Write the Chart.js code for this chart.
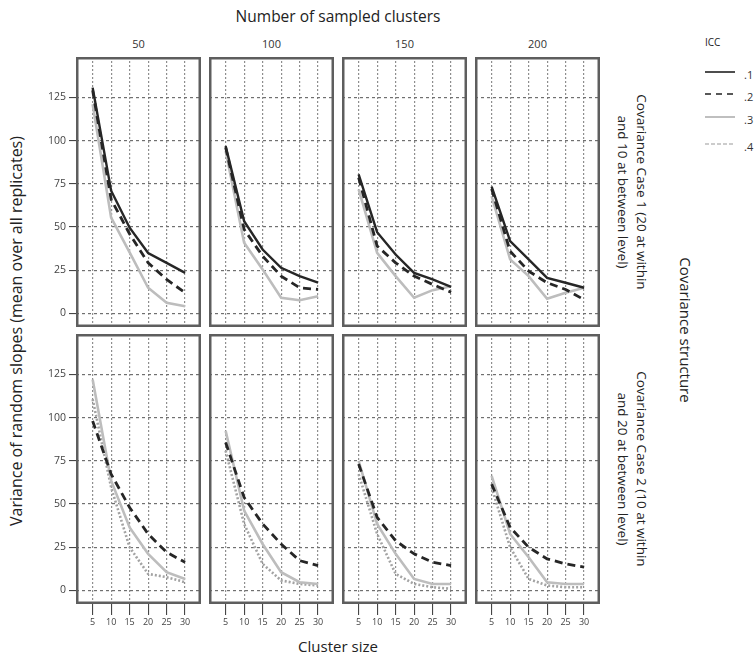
<!DOCTYPE html>
<html>
<head>
<meta charset="utf-8">
<script src="https://cdn.jsdelivr.net/npm/chart.js@4.4.1/dist/chart.umd.min.js"></script>
<style>
  html, body { margin: 0; padding: 0; background: #fff; }
  body { width: 756px; height: 658px; position: relative; overflow: hidden;
         font-family: "Open Sans", "DejaVu Sans", sans-serif; color: #222; }
  canvas { position: absolute; }
  .t { position: absolute; white-space: nowrap; transform: translate(-50%, -50%); }
  .rot-r { transform: translate(-50%, -50%) rotate(90deg); text-align: center; }
  .rot-l { transform: translate(-50%, -50%) rotate(-90deg); }
  .legend { position: absolute; left: 705px; top: 34px; font-size: 10px; color: #222; }
  .legend .row { position: absolute; left: 0; width: 60px; height: 12px; }
  .legend svg { position: absolute; left: 0; top: 0; }
  .legend span { position: absolute; left: 39px; top: -2px; font-size: 11px; color: #333; }
</style>
</head>
<body>

<div class="t" style="left:338px; top:16px; font-size:15.5px;">Number of sampled clusters</div>
<div class="t" style="left:338px; top:646px; font-size:15px;">Cluster size</div>
<div class="t rot-l" style="left:16px; top:331px; font-size:16px;">Variance of random slopes (mean over all replicates)</div>
<div class="t rot-r" style="left:686px; top:330px; font-size:15px;">Covariance structure</div>
<div class="t rot-r" style="left:632px; top:192px; font-size:13.5px; line-height:19px;">Covariance Case 1 (20 at within<br>and 10 at between level)</div>
<div class="t rot-r" style="left:632px; top:469px; font-size:13.5px; line-height:19px;">Covariance Case 2 (10 at within<br>and 20 at between level)</div>
<div id="strips"></div>

<div class="legend">
  <div style="position:absolute; left:0; top:1px;">ICC</div>
  <div class="row" style="top:35px;"><svg width="32" height="6"><line x1="0" y1="3" x2="30" y2="3" stroke="#222" stroke-width="1.6"/></svg><span>.1</span></div>
  <div class="row" style="top:57px;"><svg width="32" height="6"><line x1="0" y1="3" x2="30" y2="3" stroke="#222" stroke-width="1.6" stroke-dasharray="6 5"/></svg><span>.2</span></div>
  <div class="row" style="top:80px;"><svg width="32" height="6"><line x1="0" y1="3" x2="30" y2="3" stroke="#b0b0b0" stroke-width="1.6"/></svg><span>.3</span></div>
  <div class="row" style="top:107px;"><svg width="32" height="6"><line x1="0" y1="3" x2="30" y2="3" stroke="#999" stroke-width="1" stroke-dasharray="4 2"/></svg><span>.4</span></div>
</div>

<script>
// Axis values
const clusterSizes = [5, 10, 15, 20, 25, 30];
const sampledClusters = ['50', '100', '150', '200'];
const varianceTicks = [0, 25, 50, 75, 100, 125];
const iccLevels = ['.1', '.2', '.3', '.4'];

// Covariance Case 1: one row per number of sampled clusters (50, 100, 150, 200)
const case1Icc1 = [
  [130.6, 71.0, 49.6, 35.0, 29.3, 23.5],
  [96.8, 53.4, 37.0, 26.4, 21.6, 17.8],
  [80.4, 47.0, 34.1, 23.5, 19.7, 15.4],
  [73.3, 41.8, 31.3, 20.6, 17.8, 14.9]
];
const case1Icc2 = [
  [129.0, 66.0, 46.0, 29.3, 19.7, 12.0],
  [96.0, 48.6, 33.2, 21.6, 14.9, 13.9],
  [78.5, 39.0, 29.3, 21.6, 16.8, 12.3],
  [72.0, 36.0, 24.5, 17.8, 13.9, 8.0]
];
const case1Icc3 = [
  [121.0, 55.4, 35.3, 14.9, 6.2, 4.2],
  [94.0, 40.9, 25.5, 9.1, 7.7, 10.0],
  [71.8, 35.1, 21.6, 9.1, 13.5, 15.8],
  [67.9, 31.3, 21.6, 8.5, 12.0, 14.9]
];

// Covariance Case 2: one row per number of sampled clusters (50, 100, 150, 200)
const case2Icc2 = [
  [98.0, 67.3, 48.0, 32.7, 22.1, 16.3],
  [85.6, 53.8, 38.5, 26.9, 17.3, 14.4],
  [73.1, 42.3, 28.8, 21.2, 16.3, 14.4],
  [61.5, 36.5, 25.0, 18.3, 15.4, 13.5]
];
const case2Icc3 = [
  [122.0, 63.5, 36.5, 21.2, 10.6, 6.7],
  [92.3, 46.2, 26.9, 10.6, 4.8, 3.8],
  [75.0, 38.5, 21.2, 6.7, 3.8, 3.8],
  [66.3, 32.7, 19.2, 4.8, 3.8, 3.8]
];
const case2Icc4 = [
  [110.6, 59.6, 25.0, 9.6, 7.7, 4.8],
  [80.8, 38.5, 15.4, 5.8, 3.8, 2.9],
  [67.3, 32.7, 9.6, 3.8, 1.9, 1.0],
  [59.6, 25.0, 6.7, 2.9, 1.9, 1.9]
];

// Line appearance per ICC level
const iccStyle = {
  '.1': { color: '#262626', width: 2.4, dash: [] },
  '.2': { color: '#262626', width: 2.8, dash: [8, 5] },
  '.3': { color: '#bdbdbd', width: 2.6, dash: [] },
  '.4': { color: '#a3a3a3', width: 2.6, dash: [2, 2] }
};

// Series drawn in each row of panels
const rows = [
  [{ icc: '.1', values: case1Icc1 }, { icc: '.2', values: case1Icc2 }, { icc: '.3', values: case1Icc3 }],
  [{ icc: '.2', values: case2Icc2 }, { icc: '.3', values: case2Icc3 }, { icc: '.4', values: case2Icc4 }]
];

// Panel geometry
const PANEL_W = 125, PANEL_H = 270;
const colLeft = [76, 209, 342, 475];
const rowTop = [57, 334];
const AXIS_W = 40, AXIS_H = 30;
const FONT = '"Open Sans", "DejaVu Sans", sans-serif';

// Column strip labels
const strips = document.getElementById('strips');
sampledClusters.forEach((lab, c) => {
  const d = document.createElement('div');
  d.className = 't';
  d.style.left = (colLeft[c] + PANEL_W / 2) + 'px';
  d.style.top = '43px';
  d.style.fontSize = '11px';
  d.style.color = '#333';
  d.textContent = lab;
  strips.appendChild(d);
});

// Frame around each panel's plotting area
const panelFrame = {
  id: 'panelFrame',
  afterDraw(chart) {
    const a = chart.chartArea, ctx = chart.ctx;
    ctx.save();
    ctx.strokeStyle = '#5e5e5e';
    ctx.lineWidth = 2.5;
    ctx.strokeRect(a.left + 1.25, a.top + 1.25, a.right - a.left - 2.5, a.bottom - a.top - 2.5);
    ctx.restore();
  }
};

function makePanel(row, col) {
  const showY = col === 0, showX = row === 1;
  const w = PANEL_W + (showY ? AXIS_W : 0);
  const h = PANEL_H + (showX ? AXIS_H : 0);
  const cv = document.createElement('canvas');
  cv.width = w; cv.height = h;
  cv.style.width = w + 'px'; cv.style.height = h + 'px';
  cv.style.left = (colLeft[col] - (showY ? AXIS_W : 0)) + 'px';
  cv.style.top = rowTop[row] + 'px';
  document.body.appendChild(cv);

  const datasets = rows[row].map(s => {
    const st = iccStyle[s.icc];
    return {
      label: s.icc,
      data: clusterSizes.map((x, i) => ({ x, y: s.values[col][i] })),
      borderColor: st.color,
      borderWidth: st.width,
      borderDash: st.dash,
      pointRadius: 0,
      tension: 0,
      fill: false
    };
  });

  new Chart(cv, {
    type: 'line',
    data: { datasets },
    options: {
      responsive: false,
      animation: false,
      devicePixelRatio: 1,
      layout: { padding: 0 },
      plugins: { legend: { display: false }, tooltip: { enabled: false } },
      scales: {
        x: {
          type: 'linear', min: 0.5, max: 34.3,
          afterBuildTicks: s => { s.ticks = clusterSizes.map(v => ({ value: v })); },
          afterFit: s => { s.height = showX ? AXIS_H : 0; s.paddingLeft = 0; s.paddingRight = 0; },
          grid: { color: '#8e8e8e', lineWidth: 1.2, drawTicks: showX, tickLength: 11,
                  tickColor: '#333', tickWidth: 1, tickBorderDash: [] },
          border: { display: false, dash: [2, 2] },
          ticks: { display: showX, autoSkip: false, maxRotation: 0, padding: 2,
                   color: '#444', font: { family: FONT, size: 9 } }
        },
        y: {
          type: 'linear', min: -7.8, max: 148.3,
          afterBuildTicks: s => { s.ticks = varianceTicks.map(v => ({ value: v })); },
          afterFit: s => { s.width = showY ? AXIS_W : 0; s.paddingTop = 0; s.paddingBottom = 0; },
          grid: { color: '#707070', lineWidth: 1.2, drawTicks: showY, tickLength: 7,
                  tickColor: '#333', tickWidth: 1, tickBorderDash: [] },
          border: { display: false, dash: [3, 3] },
          ticks: { display: showY, padding: 3, color: '#444', font: { family: FONT, size: 10.5 } }
        }
      }
    },
    plugins: [panelFrame]
  });
}

for (let r = 0; r < 2; r++) {
  for (let c = 0; c < 4; c++) makePanel(r, c);
}
</script>
</body>
</html>
